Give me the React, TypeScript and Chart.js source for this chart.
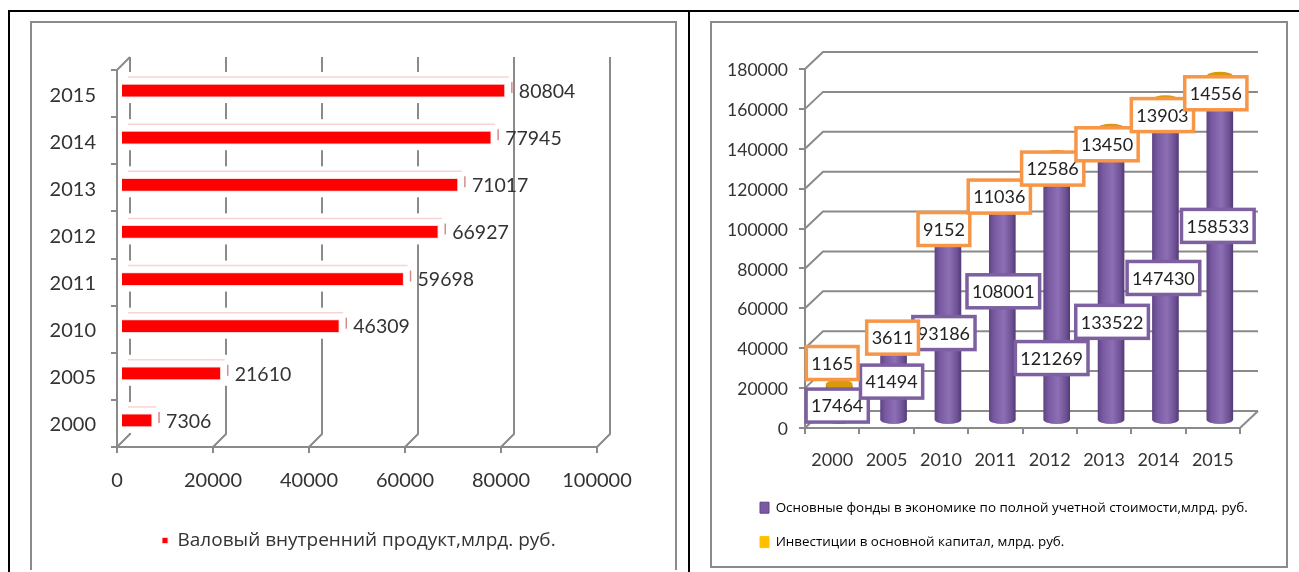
import React, { useEffect, useRef } from "react";
import { Chart, registerables } from "chart.js";

Chart.register(...registerables);

const gdpYears = ["2000", "2005", "2010", "2011", "2012", "2013", "2014", "2015"];
const gdpValues = [7306, 21610, 46309, 59698, 66927, 71017, 77945, 80804];
const gdpLabel = "Валовый внутренний продукт,млрд. руб.";

const assetYears = ["2000", "2005", "2010", "2011", "2012", "2013", "2014", "2015"];
const fixedAssets = [17464, 41494, 93186, 108001, 121269, 133522, 147430, 158533];
const investments = [1165, 3611, 9152, 11036, 12586, 13450, 13903, 14556];
const fixedAssetsLabel = "Основные фонды в экономике по полной учетной стоимости,млрд. руб.";
const investmentsLabel = "Инвестиции в основной капитал, млрд. руб.";

// Hand-placed callouts: offset of each box from its cylinder segment's centre.
const assetCalloutShift = [[5, -5], [5, -5], [3, -2], [8, -29], [2, 51], [8, 27], [5, -3], [5, -44]];
const investCalloutShift = [[0, -29], [6, -4], [3, -4], [4, -5], [3, -5], [3, -4], [4, -5], [3, -4]];

const GREY = "#8a8a8a";
const TEXT = "#333333";
const NUM_FONT = "Lato";
const CYR_FONT = "'Open Sans'";

const plainNumber = (v: any) => String(v);

// Lets a legend be placed freely: it takes no layout height and sits at the given point.
const placeLegend = (x: number, y: number) => ({
  id: "placeLegend",
  beforeLayout(chart: any) {
    const legend = chart.legend;
    if (legend && !legend.__wrapped) {
      const fit = legend.fit.bind(legend);
      legend.fit = () => {
        fit();
        legend.height = 0;
      };
      legend.__wrapped = true;
    }
  },
  afterLayout(chart: any) {
    const legend = chart.legend;
    const w = legend.width;
    legend.left = x;
    legend.right = x + w;
    legend.top = y;
    legend.bottom = y + 90;
  },
});

// Horizontal 3D look: receding gridlines and a pale slab behind each bar.
const gdpDepth = {
  id: "gdpDepth",
  beforeDatasetsDraw(chart: any) {
    const { ctx, chartArea, scales } = chart;
    const { top, bottom } = chartArea;
    const d = 13;
    ctx.save();
    ctx.strokeStyle = GREY;
    ctx.lineWidth = 2;
    for (const t of scales.x.ticks) {
      const px = scales.x.getPixelForValue(t.value);
      ctx.beginPath();
      ctx.moveTo(px + d, top - d);
      ctx.lineTo(px + d, bottom - d);
      ctx.lineTo(px, bottom);
      ctx.stroke();
    }
    const x0 = scales.x.getPixelForValue(0);
    ctx.beginPath();
    ctx.moveTo(x0, top);
    ctx.lineTo(x0 + d, top - d);
    ctx.stroke();

    const bars = chart.getDatasetMeta(0).data;
    bars.forEach((bar: any) => {
      const cy = bar.y;
      ctx.fillStyle = "#ffffff";
      ctx.fillRect(x0 + 2, cy - 21.5, bar.x + 7 - x0 - 2 + 1, 31);
      ctx.strokeStyle = "#f8d4d4";
      ctx.lineWidth = 1.5;
      ctx.beginPath();
      ctx.moveTo(x0 + 11, cy - 16.5);
      ctx.lineTo(bar.x + 4, cy - 16.5);
      ctx.stroke();
      ctx.strokeStyle = "#d98a8a";
      ctx.lineWidth = 1.5;
      ctx.beginPath();
      ctx.moveTo(bar.x + 7, cy - 11.5);
      ctx.lineTo(bar.x + 7, cy - 0.5);
      ctx.stroke();
    });
    ctx.restore();
    ctx.save();
    ctx.translate(0, -3);
  },
  afterDatasetsDraw(chart: any) {
    const { ctx } = chart;
    ctx.restore();
    ctx.save();
    ctx.font = `19.5px ${NUM_FONT}`;
    ctx.fillStyle = TEXT;
    ctx.textBaseline = "middle";
    chart.getDatasetMeta(0).data.forEach((bar: any, i: number) => {
      ctx.fillText(String(gdpValues[i]), bar.x + 14, bar.y - 2);
    });
    ctx.restore();
  },
};

// Vertical 3D look: back wall and floor, cylinder caps, then the callout boxes.
const SHIFT_X = 7;
const SHIFT_Y = -7;
const assetDepth = {
  id: "assetDepth",
  beforeDatasetsDraw(chart: any) {
    const { ctx, chartArea, scales } = chart;
    const { left, right } = chartArea;
    const dx = 18;
    const dy = 17;
    ctx.save();
    ctx.strokeStyle = GREY;
    ctx.lineWidth = 2;
    for (const t of scales.y.ticks) {
      const py = scales.y.getPixelForValue(t.value);
      ctx.beginPath();
      ctx.moveTo(left, py);
      ctx.lineTo(left + dx, py - dy);
      ctx.lineTo(right + dx, py - dy);
      ctx.stroke();
    }
    const floor = scales.y.getPixelForValue(0);
    ctx.beginPath();
    ctx.moveTo(right + dx, floor - dy);
    ctx.lineTo(right, floor);
    ctx.stroke();
    ctx.restore();
    ctx.save();
    ctx.translate(SHIFT_X, SHIFT_Y);
  },
  afterDatasetsDraw(chart: any) {
    const { ctx, scales } = chart;
    const assets = chart.getDatasetMeta(0).data;
    const invest = chart.getDatasetMeta(1).data;
    const ry = 4;
    assets.forEach((bar: any, i: number) => {
      const rx = bar.width / 2;
      ctx.fillStyle = cylinderFill(ctx, bar.x, bar.width);
      ctx.beginPath();
      ctx.ellipse(bar.x, bar.base, rx, ry, 0, 0, Math.PI * 2);
      ctx.fill();
      ctx.fillStyle = "#d79a0a";
      ctx.beginPath();
      ctx.ellipse(bar.x, invest[i].base, rx, ry, 0, 0, Math.PI * 2);
      ctx.fill();
      ctx.beginPath();
      ctx.ellipse(bar.x, invest[i].y, rx, ry, 0, 0, Math.PI * 2);
      ctx.fill();
    });
    ctx.restore();

    // Callouts sit above everything else
    ctx.save();
    ctx.font = `18px ${NUM_FONT}`;
    ctx.textAlign = "center";
    ctx.textBaseline = "middle";
    const callout = (value: number, cx: number, cy: number, colour: string) => {
      const text = String(value);
      const w = ctx.measureText(text).width + 10;
      const h = 33;
      ctx.fillStyle = "#ffffff";
      ctx.strokeStyle = colour;
      ctx.lineWidth = 3.5;
      ctx.fillRect(cx - w / 2, cy - h / 2, w, h);
      ctx.strokeRect(cx - w / 2, cy - h / 2, w, h);
      ctx.fillStyle = "#222222";
      ctx.fillText(text, cx, cy + 1);
    };
    assets.forEach((_: any, i: number) => {
      const cx = scales.x.getPixelForValue(i);
      const midA = scales.y.getPixelForValue(fixedAssets[i] / 2);
      const [ax, ay] = assetCalloutShift[i];
      callout(fixedAssets[i], cx + ax, midA + ay, "#7d60a0");
    });
    assets.forEach((_: any, i: number) => {
      const cx = scales.x.getPixelForValue(i);
      const midI = scales.y.getPixelForValue(fixedAssets[i] + investments[i] / 2);
      const [bx, by] = investCalloutShift[i];
      callout(investments[i], cx + bx, midI + by, "#f79646");
    });
    ctx.restore();
  },
};

function cylinderFill(ctx: CanvasRenderingContext2D, x: number, width: number) {
  const g = ctx.createLinearGradient(x - width / 2, 0, x + width / 2, 0);
  g.addColorStop(0, "#5f4585");
  g.addColorStop(0.2, "#7a5ba3");
  g.addColorStop(0.55, "#8d6fb5");
  g.addColorStop(0.85, "#6f5296");
  g.addColorStop(1, "#553c78");
  return g;
}

function useChart(build: (canvas: HTMLCanvasElement) => Chart) {
  const ref = useRef<HTMLCanvasElement | null>(null);
  useEffect(() => {
    const chart = build(ref.current as HTMLCanvasElement);
    return () => chart.destroy();
  }, []);
  return ref;
}

const axisGrid = {
  drawOnChartArea: false,
  drawTicks: true,
  tickLength: 6,
  color: GREY,
  lineWidth: 2,
};
const axisBorder = { color: GREY, width: 2 };

function buildGdp(canvas: HTMLCanvasElement) {
  return new Chart(canvas, {
    type: "bar",
    data: {
      labels: gdpYears,
      datasets: [
        {
          label: gdpLabel,
          data: gdpValues,
          base: 1040,
          backgroundColor: "#ff0000",
          borderColor: "#ffd6d6",
          borderWidth: 1,
          barThickness: 13,
        } as any,
      ],
    },
    options: {
      indexAxis: "y",
      responsive: false,
      animation: false,
      layout: { padding: { left: 0, top: 47, right: 77, bottom: 75 } },
      scales: {
        x: {
          min: 0,
          max: 100000,
          ticks: { stepSize: 20000, maxRotation: 0, padding: 16, color: TEXT, callback: plainNumber, font: { family: NUM_FONT, size: 20 } },
          grid: axisGrid,
          border: axisBorder,
          afterFit: (s: any) => { s.height = 50; },
        },
        y: {
          reverse: true,
          ticks: { padding: 15, labelOffset: 1.5, color: TEXT, font: { family: NUM_FONT, size: 20 } },
          grid: { ...axisGrid, offset: true },
          border: axisBorder,
          afterFit: (s: any) => { s.width = 85; },
        },
      },
      plugins: {
        tooltip: { enabled: false },
        legend: {
          position: "bottom",
          align: "start",
          labels: {
            boxWidth: 6,
            boxHeight: 6,
            padding: 0,
            color: TEXT,
            font: { family: CYR_FONT, size: 19 },
          },
        },
      },
    } as any,
    plugins: [gdpDepth, placeLegend(130, 508)],
  });
}

function buildAssets(canvas: HTMLCanvasElement) {
  return new Chart(canvas, {
    type: "bar",
    data: {
      labels: assetYears,
      datasets: [
        {
          label: fixedAssetsLabel,
          data: fixedAssets,
          stack: "total",
          barThickness: 26,
          backgroundColor: (c: any) => {
            const x = c.chart.scales.x?.getPixelForValue(c.dataIndex) ?? 0;
            return cylinderFill(c.chart.ctx, x, 26);
          },
        },
        {
          label: investmentsLabel,
          data: investments,
          stack: "total",
          barThickness: 26,
          backgroundColor: "#e0a106",
        },
      ],
    },
    options: {
      responsive: false,
      animation: false,
      layout: { padding: { left: 0, top: 47, right: 46, bottom: 87 } },
      scales: {
        x: {
          stacked: true,
          ticks: { padding: 15, maxRotation: 0, color: TEXT, font: { family: NUM_FONT, size: 18 } },
          grid: { ...axisGrid, offset: true },
          border: axisBorder,
          afterFit: (s: any) => { s.height = 50; },
        },
        y: {
          stacked: true,
          min: 0,
          max: 180000,
          ticks: { stepSize: 20000, padding: 11, labelOffset: 1.5, color: TEXT, callback: plainNumber, font: { family: NUM_FONT, size: 17.5 } },
          grid: axisGrid,
          border: axisBorder,
          afterFit: (s: any) => { s.width = 94; },
        },
      },
      plugins: {
        tooltip: { enabled: false },
        legend: {
          position: "bottom",
          align: "start",
          labels: {
            boxWidth: 9,
            boxHeight: 11,
            padding: 21,
            color: "#222222",
            font: { family: CYR_FONT, size: 13.4 },
            generateLabels: (chart: any) =>
              chart.data.datasets.map((d: any, i: number) => ({
                text: d.label,
                fillStyle: i === 0 ? "#7a5ba3" : "#ffc000",
                strokeStyle: i === 0 ? "#5f4585" : "#ffc000",
                lineWidth: 1,
                datasetIndex: i,
              })),
          },
        },
      },
    } as any,
    plugins: [assetDepth, placeLegend(28, 458)],
  });
}

const frameLine = (style: React.CSSProperties): React.CSSProperties => ({
  position: "absolute",
  background: "#000000",
  ...style,
});

export default function App() {
  const gdpRef = useChart(buildGdp);
  const assetRef = useChart(buildAssets);
  return (
    <div style={{ position: "absolute", left: 0, top: 0, width: 1299, height: 572, overflow: "hidden", background: "#ffffff" }}>
      <div style={frameLine({ left: 9, top: 10, width: 1290, height: 2 })} />
      <div style={frameLine({ left: 8, top: 10, width: 2, height: 562 })} />
      <div style={frameLine({ left: 688, top: 10, width: 2, height: 562 })} />
      <div style={{ position: "absolute", left: 30, top: 21, width: 643, height: 547, borderTop: `2px solid ${GREY}`, borderLeft: `2px solid ${GREY}`, borderRight: `2px solid ${GREY}` }} />
      <div style={{ position: "absolute", left: 710, top: 21, width: 574, height: 543, border: `2px solid ${GREY}` }} />
      <canvas ref={gdpRef} width={642} height={549} style={{ position: "absolute", left: 32, top: 23, display: "block" }} />
      <canvas ref={assetRef} width={575} height={543} style={{ position: "absolute", left: 711, top: 22, display: "block" }} />
    </div>
  );
}
